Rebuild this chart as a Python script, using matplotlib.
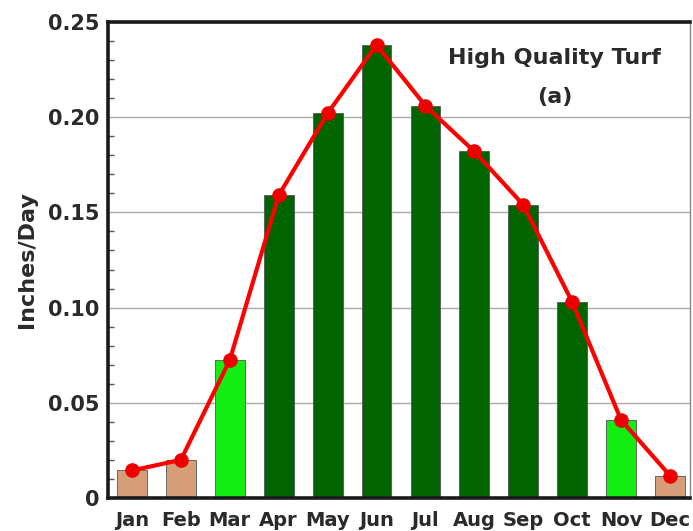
import matplotlib
matplotlib.use("Agg")
import matplotlib.pyplot as plt
from matplotlib.ticker import MultipleLocator, FixedLocator

months = ["Jan", "Feb", "Mar", "Apr", "May", "Jun", "Jul", "Aug", "Sep", "Oct", "Nov", "Dec"]
et_rate = [0.0145, 0.0200, 0.0725, 0.159, 0.202, 0.238, 0.206, 0.182, 0.154, 0.103, 0.041, 0.0118]
season = ["dormant", "dormant", "transition", "active", "active", "active",
          "active", "active", "active", "active", "transition", "dormant"]
season_colors = {"dormant": "#D69E78", "transition": "#12EE12", "active": "#006400"}
y_ticks = [0, 0.05, 0.10, 0.15, 0.20, 0.25]
y_tick_labels = ["0", "0.05", "0.10", "0.15", "0.20", "0.25"]

plt.rcParams["font.family"] = ["DejaVu Sans"]

fig = plt.figure(figsize=(6.93, 5.31), dpi=100)
ax = fig.add_axes([0.1558, 0.0621, 0.8398, 0.8965])

x = list(range(len(months)))
ax.bar(x, et_rate, width=0.61, color=[season_colors[s] for s in season],
       edgecolor="#555555", linewidth=0.6, zorder=2)
ax.plot(x, et_rate, color="#FF0000", linewidth=3, marker="o", markersize=9.5,
        markerfacecolor="#EE0000", markeredgecolor="#EE0000", zorder=3, clip_on=False)

ax.set_xlim(-0.491, 11.409)
ax.set_ylim(0, 0.25)
ax.set_xticks(x)
ax.set_xticklabels(months, fontsize=14, fontweight="bold", color="#2A2A2A")
ax.tick_params(axis="x", length=0, pad=9)
ax.yaxis.set_major_locator(FixedLocator(y_ticks))
ax.set_yticklabels(y_tick_labels, fontsize=15, fontweight="bold", color="#2A2A2A")
ax.yaxis.set_minor_locator(MultipleLocator(0.01))
ax.tick_params(axis="y", which="major", length=0, pad=6)
ax.tick_params(axis="y", which="minor", direction="in", length=4, width=1, color="#555555")

ax.grid(axis="y", which="major", color="#AAAAAA", linewidth=1, zorder=0)
ax.set_axisbelow(True)

for side in ["left", "top", "bottom"]:
    ax.spines[side].set_linewidth(2.6)
    ax.spines[side].set_color("#1A1A1A")
ax.spines["right"].set_linewidth(1)
ax.spines["right"].set_color("#888888")

ax.set_ylabel("Inches/Day", fontsize=16, fontweight="bold", color="#2A2A2A", labelpad=8)

ax.text(0.767, 0.925, "High Quality Turf", transform=ax.transAxes, ha="center", va="center",
        fontsize=16, fontweight="bold", color="#2A2A2A")
ax.text(0.767, 0.842, "(a)", transform=ax.transAxes, ha="center", va="center",
        fontsize=16, fontweight="bold", color="#2A2A2A")

fig.savefig("out.png", dpi=100)
